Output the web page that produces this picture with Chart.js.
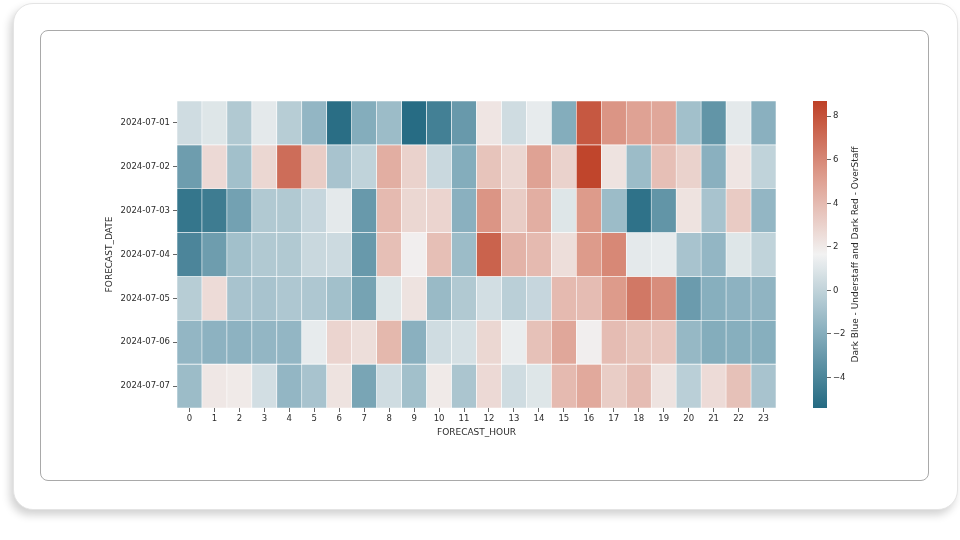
<!DOCTYPE html>
<html>
<head>
<meta charset="utf-8">
<title>Forecast staffing heatmap</title>
<script src="https://cdn.jsdelivr.net/npm/chart.js@4.4.1/dist/chart.umd.min.js"></script>
<style>
    html, body { margin: 0; padding: 0; background: #fff; }
    body { width: 960px; height: 540px; position: relative; overflow: hidden; font-family: "DejaVu Sans", sans-serif; }
    .card {
        position: absolute; left: 13px; top: 3px; width: 943px; height: 505px;
        border-radius: 20px; background: #fff;
        border: 1px solid #e4e4e4;
        box-shadow: -3px 5px 8px rgba(0, 0, 0, 0.18);
    }
    .frame {
        position: absolute; left: 40px; top: 30px; width: 887px; height: 449px;
        border: 1px solid #a9a9a9; border-radius: 8px; background: #fff;
    }
    #heat { position: absolute; left: 100px; top: 92px; }
    #cbar { position: absolute; left: 800px; top: 92px; }
</style>
</head>
<body>
<div class="card"></div>
<div class="frame"></div>
<canvas id="heat" width="690" height="350"></canvas>
<canvas id="cbar" width="80" height="350"></canvas>
<script>
    'use strict';

    var hours = ['0', '1', '2', '3', '4', '5', '6', '7', '8', '9', '10', '11',
        '12', '13', '14', '15', '16', '17', '18', '19', '20', '21', '22', '23'];
    var dates = ['2024-07-01', '2024-07-02', '2024-07-03', '2024-07-04',
        '2024-07-05', '2024-07-06', '2024-07-07'];

    // staffing gap per hour, one array per forecast date
    var day01 = [0.5, 1.0, -0.5, 1.2, -0.3, -1.5, -5.2, -2.0, -1.2, -5.3, -4.3, -3.0,
        2.2, 0.5, 1.3, -2.0, 7.8, 5.5, 5.0, 4.8, -1.0, -3.2, 1.2, -1.8];
    var day02 = [-2.8, 2.7, -1.0, 2.8, 7.0, 3.2, -0.8, 0.0, 4.5, 3.0, 0.3, -2.0,
        3.6, 2.8, 5.0, 3.0, 8.5, 2.3, -1.2, 3.8, 3.0, -1.8, 2.2, 0.0];
    var day03 = [-4.8, -4.5, -2.6, -0.5, -0.5, 0.2, 1.2, -3.0, 4.0, 2.8, 2.9, -1.8,
        5.5, 3.2, 4.5, 1.0, 5.3, -1.2, -5.0, -3.2, 2.3, -0.8, 3.3, -1.5];
    var day04 = [-4.0, -2.8, -1.0, -0.5, -0.5, 0.3, 0.4, -3.0, 3.8, 1.8, 3.8, -1.2,
        7.4, 4.3, 4.0, 2.5, 5.3, 6.0, 1.2, 1.3, -0.8, -1.5, 1.0, 0.0];
    var day05 = [-0.3, 2.6, -0.8, -0.8, -0.6, -0.6, -1.0, -2.5, 1.0, 2.3, -1.3, -0.5,
        0.6, -0.2, 0.2, 4.0, 3.9, 5.3, 6.6, 5.8, -2.9, -1.9, -1.7, -1.6];
    var day06 = [-1.5, -1.7, -1.7, -1.5, -1.5, 1.3, 2.9, 2.5, 4.1, -1.8, 0.5, 0.7,
        2.8, 1.4, 3.7, 4.8, 1.8, 3.9, 3.6, 3.5, -1.4, -2.0, -1.9, -1.9];
    var day07 = [-1.2, 2.1, 2.0, 0.6, -1.5, -0.8, 2.3, -2.4, 0.5, -1.0, 2.0, -0.7,
        2.7, 0.5, 1.0, 4.0, 4.7, 3.2, 3.9, 2.3, -0.2, 2.6, 3.7, -0.8];
    var rows = [day01, day02, day03, day04, day05, day06, day07];

    var cbarTicks = [-4, -2, 0, 2, 4, 6, 8];
    var vmin = -5.4,
        vmax = 8.7;

    // diverging blue -> light grey -> red
    var stops = [
        [0.00, [36, 106, 130]],
        [0.25, [136, 175, 190]],
        [0.50, [242, 242, 242]],
        [0.75, [222, 158, 143]],
        [1.00, [190, 64, 38]]
    ];

    function colorAt(t) {
        t = Math.max(0, Math.min(1, t));
        for (var i = 1; i < stops.length; i++) {
            if (t <= stops[i][0]) {
                var a = stops[i - 1], b = stops[i];
                var f = (t - a[0]) / (b[0] - a[0]);
                var c = a[1].map(function (x, k) { return Math.round(x + (b[1][k] - x) * f); });
                return 'rgb(' + c.join(',') + ')';
            }
        }
        return 'rgb(' + stops[stops.length - 1][1].join(',') + ')';
    }

    function valueColor(v) {
        return colorAt((v - vmin) / (vmax - vmin));
    }

    var textColor = '#2b2b2b';
    var tickFont = { family: 'DejaVu Sans', size: 8.5 };
    var titleFont = { family: 'DejaVu Sans', size: 9 };

    var datasets = rows.map(function (r, i) {
        return {
            label: dates[i],
            data: r.map(function () { return 1; }),
            backgroundColor: r.map(valueColor),
            borderColor: 'rgba(255,255,255,0.85)',
            borderWidth: 0.6,
            borderSkipped: false,
            barPercentage: 1,
            categoryPercentage: 1
        };
    });

    new Chart(document.getElementById('heat'), {
        type: 'bar',
        data: { labels: hours, datasets: datasets },
        options: {
            responsive: false,
            animation: false,
            layout: { padding: { top: 9, right: 14, left: 0, bottom: 0 } },
            plugins: { legend: { display: false }, tooltip: { enabled: false } },
            scales: {
                x: {
                    stacked: true,
                    border: { display: false },
                    grid: { display: true, drawOnChartArea: false, offset: false, tickLength: 4, color: '#666' },
                    ticks: { color: textColor, font: tickFont, padding: 2, maxRotation: 0, autoSkip: false },
                    title: { display: true, text: 'FORECAST_HOUR', color: textColor, font: titleFont, padding: { top: 1, bottom: 4 } },
                    afterFit: function (s) { s.height = 34; }
                },
                y: {
                    stacked: true,
                    reverse: true,
                    min: 0,
                    max: 7,
                    border: { display: false },
                    grid: { display: true, drawOnChartArea: false, tickLength: 4, color: '#666' },
                    afterBuildTicks: function (s) {
                        s.ticks = dates.map(function (d, i) { return { value: i + 0.5 }; });
                    },
                    ticks: {
                        color: textColor, font: tickFont, padding: 3, autoSkip: false,
                        callback: function (value) { return dates[Math.floor(value)]; }
                    },
                    title: { display: true, text: 'FORECAST_DATE', color: textColor, font: titleFont, padding: 4 },
                    afterFit: function (s) { s.width = 77; }
                }
            }
        }
    });

    // colour bar: gradient drawn against its own linear scale
    var cbarPlugin = {
        id: 'cbarGradient',
        beforeDraw: function (chart) {
            var ctx = chart.ctx,
                area = chart.chartArea,
                y = chart.scales.y;
            var top = y.getPixelForValue(vmax),
                bottom = y.getPixelForValue(vmin);
            var g = ctx.createLinearGradient(0, bottom, 0, top);
            for (var i = 0; i <= 40; i++) {
                g.addColorStop(i / 40, colorAt(i / 40));
            }
            ctx.save();
            ctx.fillStyle = g;
            ctx.fillRect(area.left, top, area.right - area.left, bottom - top);
            ctx.restore();
        },
        afterDraw: function (chart) {
            var ctx = chart.ctx,
                area = chart.chartArea;
            ctx.save();
            ctx.translate(area.right + 29, (area.top + area.bottom) / 2);
            ctx.rotate(-Math.PI / 2);
            ctx.fillStyle = textColor;
            ctx.font = '9px "DejaVu Sans"';
            ctx.textAlign = 'center';
            ctx.textBaseline = 'middle';
            ctx.fillText('Dark Blue - Understaff and Dark Red - OverStaff', 0, 0);
            ctx.restore();
        }
    };

    new Chart(document.getElementById('cbar'), {
        type: 'bar',
        data: { labels: [''], datasets: [] },
        options: {
            responsive: false,
            animation: false,
            layout: { padding: { top: 9, right: 29, left: 13, bottom: 34 } },
            plugins: { legend: { display: false }, tooltip: { enabled: false } },
            scales: {
                x: { display: false },
                y: {
                    position: 'right',
                    min: vmin,
                    max: vmax,
                    border: { display: false },
                    grid: { display: true, drawOnChartArea: false, tickLength: 4, color: '#666' },
                    afterBuildTicks: function (s) {
                        s.ticks = cbarTicks.map(function (v) { return { value: v }; });
                    },
                    ticks: {
                        color: textColor, font: tickFont, padding: 2,
                        callback: function (value) { return value < 0 ? '\u2212' + Math.abs(value) : String(value); }
                    },
                    afterFit: function (s) { s.width = 24; }
                }
            }
        },
        plugins: [cbarPlugin]
    });
</script>
</body>
</html>
